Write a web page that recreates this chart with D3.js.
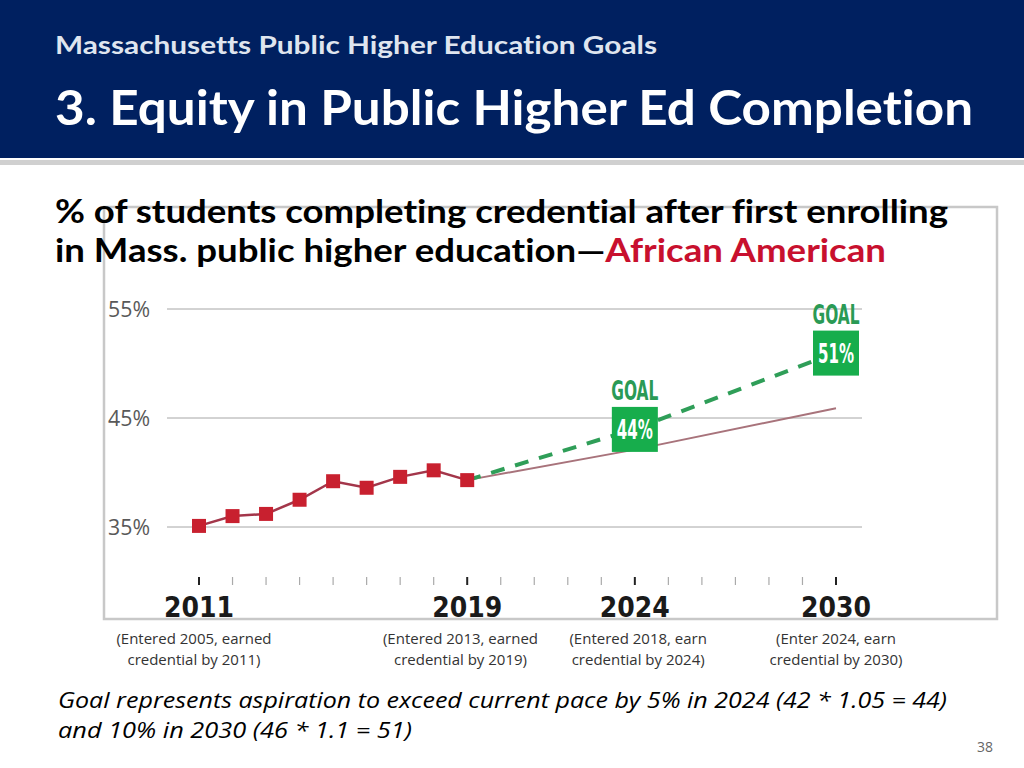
<!DOCTYPE html>
<html><head><meta charset="utf-8">
<script src="https://cdn.jsdelivr.net/npm/d3@7"></script>
<style>
html,body{margin:0;padding:0;background:#fff;}
svg{display:block;}
text{font-variant-ligatures:none;font-feature-settings:"liga" 0;}
</style></head>
<body>
<svg id="c" width="1024" height="768"></svg>
<script>
// ---- data ----
const years = [2011, 2012, 2013, 2014, 2015, 2016, 2017, 2018, 2019];
const values = [35.1, 36.0, 36.2, 37.5, 39.2, 38.6, 39.6, 40.2, 39.3];
const trendYears = [2019, 2024, 2030];
const trendValues = [39.3, 42.1, 45.9];
const goalYears = [2019, 2024, 2030];
const goalValues = [39.3, 44, 51];
const goalLabels = ["", "44%", "51%"];
const yTicks = [35, 45, 55];
const labelYears = [2011, 2019, 2024, 2030];
const allTickYears = d3.range(2011, 2031);
const noteLines = [
  ["(Entered 2005, earned", "credential by 2011)"],
  ["(Entered 2013, earned", "credential by 2019)"],
  ["(Entered 2018, earn", "credential by 2024)"],
  ["(Enter 2024, earn", "credential by 2030)"]
];
const noteCenters = [2010.85, 2018.8, 2024.1, 2030];

const svg = d3.select("#c");
const font = "'Open Sans', 'Noto Sans', sans-serif";
const hfont = "Lato, 'Open Sans', sans-serif";
const cond = "'DejaVu Sans Condensed', 'DejaVu Sans', sans-serif";

function fit(sel, w) { sel.attr("textLength", w).attr("lengthAdjust", "spacingAndGlyphs"); }

// header
svg.append("rect").attr("x",0).attr("y",0).attr("width",1024).attr("height",158).attr("fill","#002060");
svg.append("rect").attr("x",0).attr("y",160).attr("width",1024).attr("height",5).attr("fill","#d0d0d0");
svg.append("text").attr("x",55).attr("y",54).attr("font-family",hfont).attr("font-weight",700)
  .attr("font-size",25).attr("fill","#dfe5ef").text("Massachusetts Public Higher Education Goals").call(fit, 602);
svg.append("text").attr("x",55).attr("y",125).attr("font-family",hfont).attr("font-weight",700)
  .attr("font-size",48).attr("fill","#ffffff").text("3. Equity in Public Higher Ed Completion").call(fit, 918);

// chart frame
svg.append("rect").attr("x",104).attr("y",207).attr("width",893).attr("height",412)
  .attr("fill","#fff").attr("stroke","#c8c8c8").attr("stroke-width",2.5);

// heading
svg.append("text").attr("x",55).attr("y",223).attr("font-family",hfont).attr("font-weight",700)
  .attr("font-size",32).attr("fill","#000").text("% of students completing credential after first enrolling").call(fit, 893);
const h2 = svg.append("text").attr("x",55).attr("y",262).attr("font-family",hfont).attr("font-weight",700)
  .attr("font-size",32).attr("fill","#000");
h2.append("tspan").text("in Mass. public higher education\u2014");
h2.append("tspan").attr("fill","#c8102e").text("African American");
h2.call(fit, 831);

// scales
const x = d3.scaleLinear().domain([2011, 2030]).range([199, 836]);
const y = d3.scaleLinear().domain([35, 55]).range([527, 309]);

// gridlines
svg.append("g").selectAll("line").data(yTicks).join("line")
  .attr("x1",167).attr("x2",862).attr("y1",d=>y(d)).attr("y2",d=>y(d))
  .attr("stroke","#a6a6a6").attr("stroke-width",1);
svg.append("g").selectAll("text").data(yTicks).join("text")
  .attr("x",108).attr("y",d=>y(d)+8).attr("font-family",font).attr("font-size",21)
  .attr("fill","#595959").text(d=>d+"%").call(fit, 42);

// x ticks
svg.append("g").selectAll("line").data(allTickYears).join("line")
  .attr("x1",d=>x(d)).attr("x2",d=>x(d)).attr("y1",577).attr("y2",585)
  .attr("stroke",d=>labelYears.includes(d)?"#222":"#aaa").attr("stroke-width",d=>labelYears.includes(d)?2:1.2);
svg.append("g").selectAll("text").data(labelYears).join("text")
  .attr("x",d=>x(d)).attr("y",617).attr("text-anchor","middle")
  .attr("font-family",cond).attr("font-weight",700)
  .attr("font-size",29).attr("fill","#1a1a1a").text(d=>d).call(fit, 70);

// trend line
const line = d3.line().x(d=>x(d[0])).y(d=>y(d[1]));
svg.append("path").datum(d3.zip(trendYears, trendValues)).attr("d", line)
  .attr("fill","none").attr("stroke","#a8737b").attr("stroke-width",2);

// goal dashed line
svg.append("path").datum(d3.zip(goalYears, goalValues)).attr("d", line)
  .attr("fill","none").attr("stroke","#2f9e58").attr("stroke-width",4).attr("stroke-dasharray","14,11");

// actual line
svg.append("path").datum(d3.zip(years, values)).attr("d", line)
  .attr("fill","none").attr("stroke","#a3364a").attr("stroke-width",2.5);
svg.append("g").selectAll("rect").data(d3.zip(years, values)).join("rect")
  .attr("x",d=>x(d[0])-7).attr("y",d=>y(d[1])-7).attr("width",14).attr("height",14)
  .attr("fill","#c8202f");

// goal boxes
const goals = d3.zip(goalYears, goalValues, goalLabels).filter(d=>d[2]);
const gg = svg.append("g").selectAll("g").data(goals).join("g");
gg.append("rect").attr("x",d=>x(d[0])-23).attr("y",d=>y(d[1])-22).attr("width",46).attr("height",45)
  .attr("fill","#17ad4c");
gg.append("text").attr("x",d=>x(d[0])).attr("y",d=>y(d[1])+10).attr("text-anchor","middle")
  .attr("font-family",cond).attr("font-weight",700)
  .attr("font-size",27).attr("fill","#fff").text(d=>d[2]).call(fit, 36);
gg.append("text").attr("x",d=>x(d[0])).attr("y",d=>y(d[1])-29).attr("text-anchor","middle")
  .attr("font-family",cond).attr("font-weight",700)
  .attr("font-size",26).attr("fill","#2a9a55").text("GOAL").call(fit, 47);

// notes
const ng = svg.append("g").selectAll("text").data(d3.zip(noteCenters, noteLines)).join("text")
  .attr("text-anchor","middle").attr("font-family",font).attr("font-size",15).attr("fill","#333");
ng.each(function(d){
  const t = d3.select(this);
  t.append("tspan").attr("x",x(d[0])).attr("y",644).text(d[1][0]);
  t.append("tspan").attr("x",x(d[0])).attr("y",665).text(d[1][1]);
});

// footnote
svg.append("text").attr("x",58).attr("y",708).attr("font-family",font).attr("font-style","italic")
  .attr("font-size",22).attr("fill","#000")
  .text("Goal represents aspiration to exceed current pace by 5% in 2024 (42 * 1.05 = 44)").call(fit, 889);
svg.append("text").attr("x",58).attr("y",738).attr("font-family",font).attr("font-style","italic")
  .attr("font-size",22).attr("fill","#000").text("and 10% in 2030 (46 * 1.1 = 51)").call(fit, 354);
svg.append("text").attr("x",993).attr("y",752).attr("text-anchor","end").attr("font-family",font)
  .attr("font-size",14).attr("fill","#666").text("38");
</script>
</body></html>
